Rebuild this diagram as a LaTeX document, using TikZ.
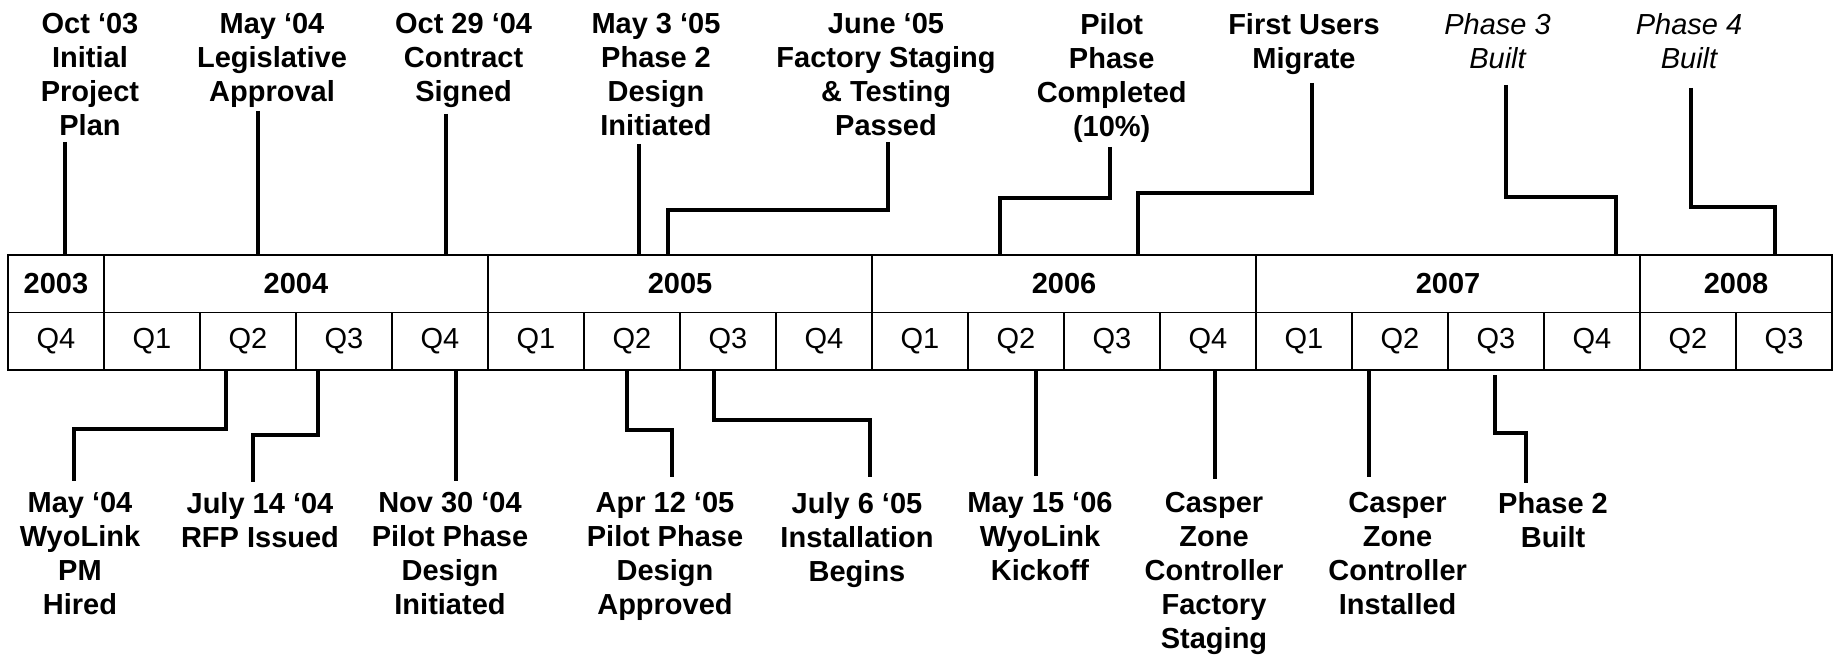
\documentclass[tikz,border=0pt]{standalone}
\usepackage{fontspec}
\setmainfont{Liberation Sans}
\begin{document}
\begin{tikzpicture}[x=0.5pt,y=-0.5pt,
  lab/.style={font=\fontsize{14.5}{17}\selectfont\bfseries, align=center, inner sep=0pt, anchor=north},
  itlab/.style={lab, font=\fontsize{14.5}{17}\selectfont\itshape},
  conn/.style={line width=2pt, line join=miter},
  cellbase/.style={draw, line width=0.65pt, inner sep=0pt, minimum height=28.75pt},
  ycell/.style={cellbase, font=\fontsize{14.5}{17}\selectfont\bfseries},
  qcell/.style={cellbase, minimum width=48pt, font=\fontsize{14.5}{17}\selectfont}
]
\useasboundingbox (0,0) rectangle (1839,657);

% ---- year row ----
\node[ycell, minimum width=48pt]  (y2003) at (56,283.75)   {2003};
\node[ycell, minimum width=192pt] (y2004) at (296,283.75)  {2004};
\node[ycell, minimum width=192pt] (y2005) at (680,283.75)  {2005};
\node[ycell, minimum width=192pt] (y2006) at (1064,283.75) {2006};
\node[ycell, minimum width=192pt] (y2007) at (1448,283.75) {2007};
\node[ycell, minimum width=96pt]  (y2008) at (1736,283.75) {2008};

% ---- quarter row ----
\foreach \q [count=\i from 0] in {Q4,Q1,Q2,Q3,Q4,Q1,Q2,Q3,Q4,Q1,Q2,Q3,Q4,Q1,Q2,Q3,Q4,Q2,Q3}
  \node[qcell] (q\i) at ({56+96*\i},341.25) {\q};

% ---- top labels ----
\node[lab] (T1) at (90,13.3)     {Oct ‘03\\Initial\\Project\\Plan};
\node[lab] (T2) at (272,13.3)    {May ‘04\\Legislative\\Approval};
\node[lab] (T3) at (463.6,13.3)  {Oct 29 ‘04\\Contract\\Signed};
\node[lab] (T4) at (656,13.3)    {May 3 ‘05\\Phase 2\\Design\\Initiated};
\node[lab] (T5) at (886,13.3)    {June ‘05\\Factory Staging\\\& Testing\\Passed};
\node[lab] (T6) at (1111.7,13.3) {Pilot\\Phase\\Completed\\(10\%)};
\node[lab] (T7) at (1304,13.3)   {First Users\\Migrate};
\node[itlab] (T8) at (1497.5,13.3) {Phase 3\\Built};
\node[itlab] (T9) at (1689,13.3)   {Phase 4\\Built};

% ---- bottom labels ----
\node[lab] (B1) at (80,491.7)     {May ‘04\\WyoLink\\PM\\Hired};
\node[lab] (B2) at (260,491.7)    {July 14 ‘04\\RFP Issued};
\node[lab] (B3) at (450,491.7)    {Nov 30 ‘04\\Pilot Phase\\Design\\Initiated};
\node[lab] (B4) at (665,491.7)    {Apr 12 ‘05\\Pilot Phase\\Design\\Approved};
\node[lab] (B5) at (857,491.7)    {July 6 ‘05\\Installation\\Begins};
\node[lab] (B6) at (1040,491.7)   {May 15 ‘06\\WyoLink\\Kickoff};
\node[lab] (B7) at (1214,491.7)   {Casper\\Zone\\Controller\\Factory\\Staging};
\node[lab] (B8) at (1397.6,491.7) {Casper\\Zone\\Controller\\Installed};
\node[lab] (B9) at (1553,491.7)   {Phase 2\\Built};

% ---- connector end points ----
\coordinate (t1e) at (65,142);
\coordinate (t2e) at (258,111);
\coordinate (t3e) at (446,114);
\coordinate (t4e) at (639,144);
\coordinate (t5e) at (887.5,142);
\coordinate (t6e) at (1110,147);
\coordinate (t7e) at (1312,83);
\coordinate (t8e) at (1506,85);
\coordinate (t9e) at (1691,88);
\coordinate (a5) at (668,255);
\coordinate (a6) at (1000,255);
\coordinate (a7) at (1138,255);
\coordinate (a8) at (1616,255);
\coordinate (a9) at (1775,255);

\coordinate (b1s) at (226,370);   \coordinate (b1e) at (73.5,481);
\coordinate (b2s) at (317.5,370); \coordinate (b2e) at (253,482);
\coordinate (b3s) at (455.5,370); \coordinate (b3e) at (455.5,481);
\coordinate (b4s) at (627,370);   \coordinate (b4e) at (672,477);
\coordinate (b5s) at (714,370);   \coordinate (b5e) at (870,477);
\coordinate (b6s) at (1036,370);  \coordinate (b6e) at (1036,476);
\coordinate (b7s) at (1215,370);  \coordinate (b7e) at (1215,479);
\coordinate (b8s) at (1369,370);  \coordinate (b8e) at (1369,477);
\coordinate (b9s) at (1494.6,375);\coordinate (b9e) at (1526,483);

% ---- top connectors ----
\draw[conn] (t1e) -- (t1e |- y2003.north);
\draw[conn] (t2e) -- (t2e |- y2004.north);
\draw[conn] (t3e) -- (t3e |- y2004.north);
\draw[conn] (t4e) -- (t4e |- y2005.north);
\draw[conn] (t5e) -- (t5e |- 0,210) -| (a5);
\draw[conn] (t6e) -- (t6e |- 0,198) -| (a6);
\draw[conn] (t7e) -- (t7e |- 0,193) -| (a7);
\draw[conn] (t8e) -- (t8e |- 0,197) -| (a8);
\draw[conn] (t9e) -- (t9e |- 0,207) -| (a9);

% ---- bottom connectors ----
\draw[conn] (b1s) -- (b1s |- 0,429) -| (b1e);
\draw[conn] (b2s) -- (b2s |- 0,435) -| (b2e);
\draw[conn] (b3s) -- (b3e);
\draw[conn] (b4s) -- (b4s |- 0,430) -| (b4e);
\draw[conn] (b5s) -- (b5s |- 0,420) -| (b5e);
\draw[conn] (b6s) -- (b6e);
\draw[conn] (b7s) -- (b7e);
\draw[conn] (b8s) -- (b8e);
\draw[conn] (b9s) -- (b9s |- 0,433) -| (b9e);
\end{tikzpicture}
\end{document}
